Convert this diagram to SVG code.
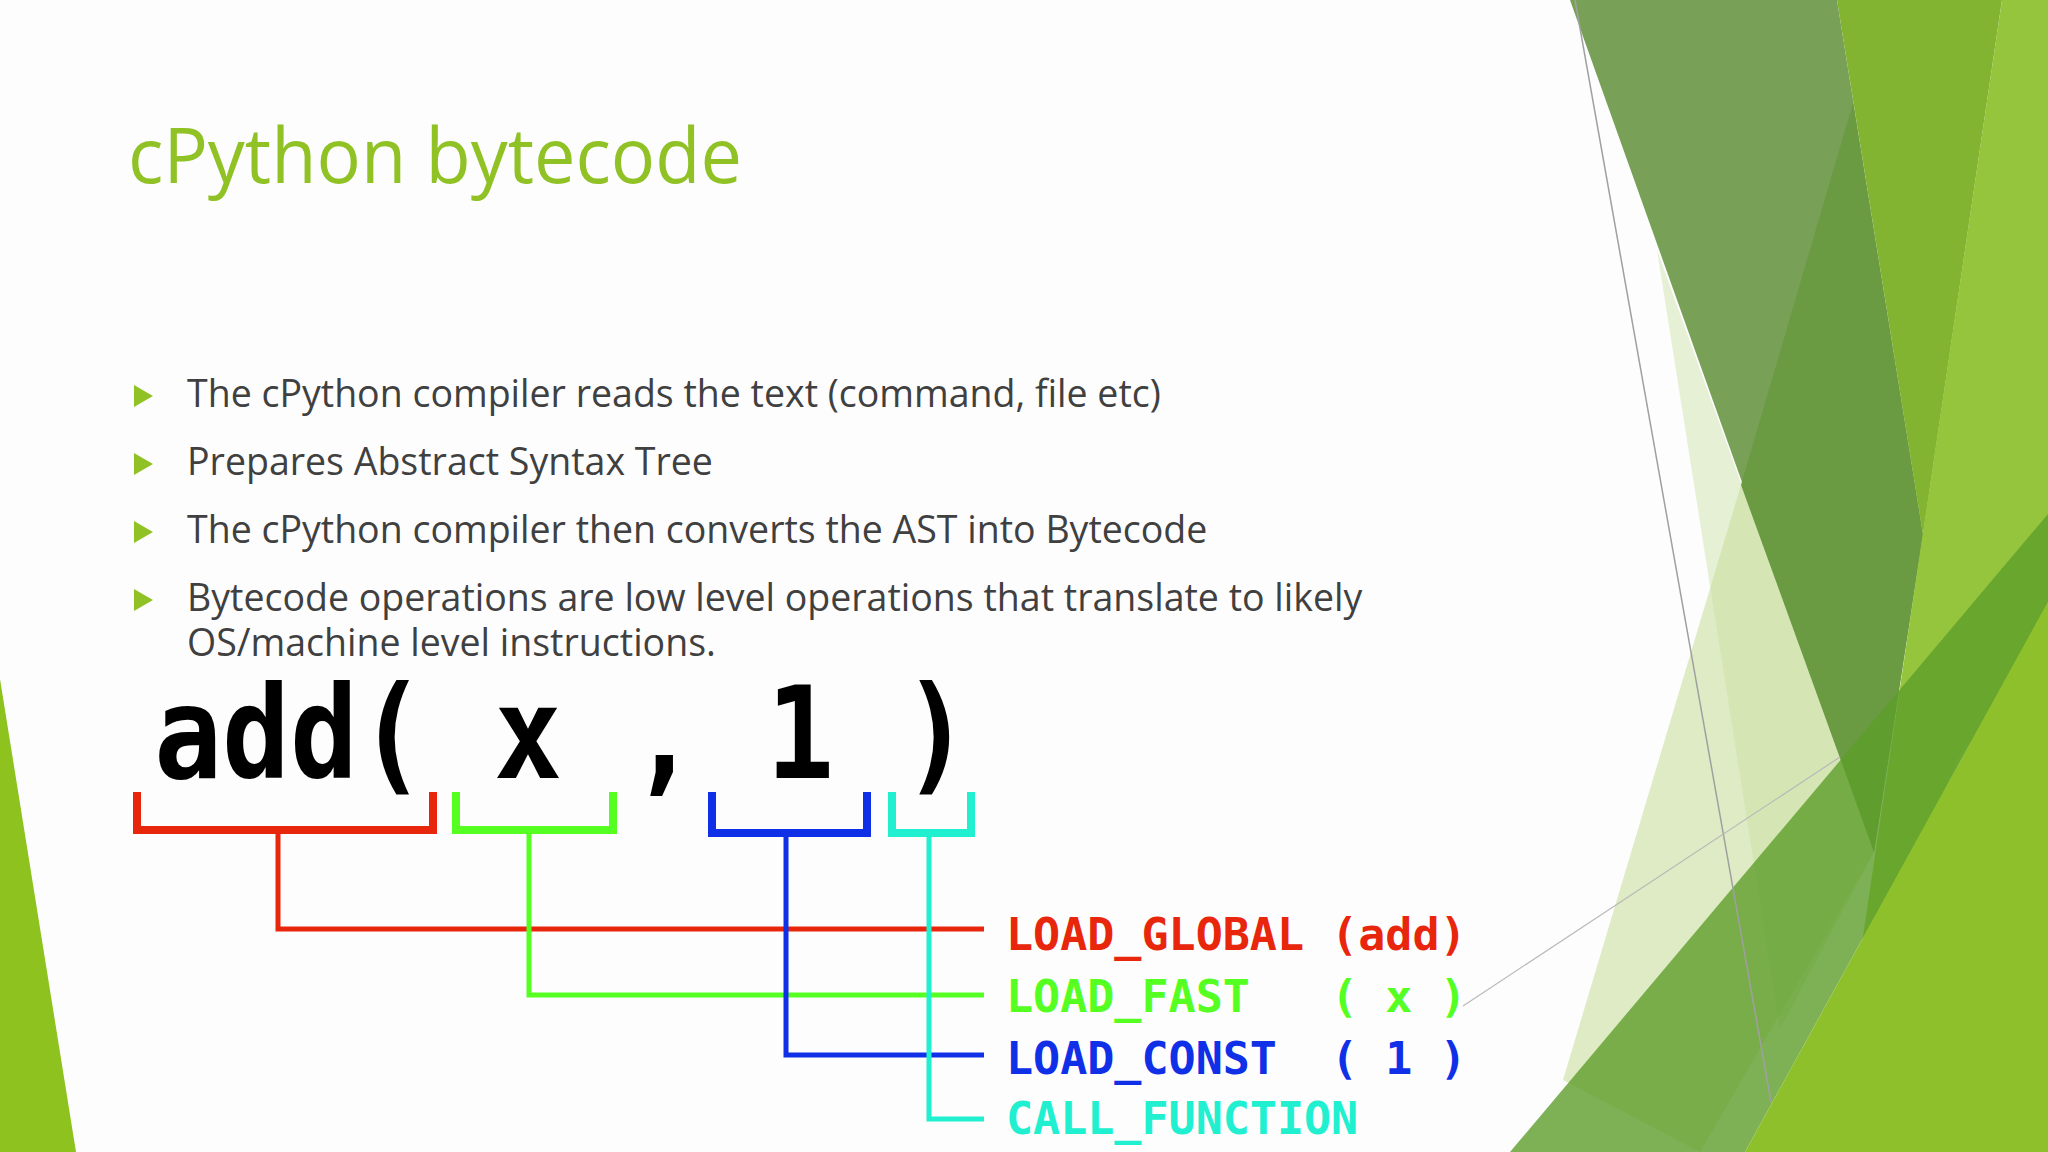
<svg xmlns="http://www.w3.org/2000/svg" width="2048" height="1152" viewBox="0 0 2048 1152">
<style>
.b{font-family:"Open Sans","Liberation Sans",sans-serif;font-size:37.5px;fill:#404040}
.code{font-family:"DejaVu Sans Mono",monospace;font-weight:bold}
.lbl{font-family:"DejaVu Sans Mono",monospace;font-weight:bold;font-size:45px}
.br{fill:none;stroke-width:8;stroke-linecap:butt}
.cn{fill:none;stroke-width:5}
</style>
<defs><polygon id="tri" points="0,-11 19,0 0,11" fill="#90C226"/></defs>
<rect width="2048" height="1152" fill="#FDFDFE"/>
<g id="background">
<polygon points="0,679 76,1152 0,1152" fill="#8DC21F"/>
<polygon points="1657,250 1874,852 1780,1029" fill="#E6F0D4"/>
<polygon points="1741,485 1874,852 1700,1152 1563,1080" fill="#C9DF9E" opacity="0.6"/>
<polygon points="1570,0 1837,0 1923,535 1874,852" fill="#78A056"/>
<polygon points="1853,103 1923,535 1874,852 1741,485" fill="#6A9A42"/>
<polygon points="1837,0 2002,0 1923,535" fill="#82B432"/>
<polygon points="2002,0 2048,0 2048,1152 1831,1152" fill="#95C53D"/>
<polygon points="1958,757 1990,720 1970,880 1900,900" fill="#A8D070" opacity="0.7"/>
<polygon points="1510,1152 2048,514 2048,602 1745,1152" fill="#5E9E2A" opacity="0.8"/>
<polygon points="1745,1152 2048,602 2048,1152" fill="#8DC02A"/>
<line x1="1575" y1="0" x2="1771" y2="1102" stroke="#A0A0A0" stroke-width="1.5"/>
<line x1="1463" y1="1006" x2="1840" y2="757" stroke="#B8B8B8" stroke-width="1.2"/>
</g>
<g id="title"><text x="128" y="183" font-family="Open Sans,Liberation Sans,sans-serif" font-size="76" fill="#90C226" textLength="614" lengthAdjust="spacingAndGlyphs">cPython bytecode</text></g>
<g id="bullets">
<use href="#tri" x="134" y="396"/><text class="b" x="187" y="407">The cPython compiler reads the text (command, file etc)</text>
<use href="#tri" x="134" y="464"/><text class="b" x="187" y="475">Prepares Abstract Syntax Tree</text>
<use href="#tri" x="134" y="532"/><text class="b" x="187" y="543">The cPython compiler then converts the AST into Bytecode</text>
<use href="#tri" x="134" y="600"/><text class="b" x="187" y="611">Bytecode operations are low level operations that translate to likely</text>
<text class="b" x="187" y="656">OS/machine level instructions.</text>
</g>
<g id="code"><text class="code" x="154" y="777" font-size="113" transform="translate(0,-100) scale(1,1.13)" fill="#000">add( x , 1 )</text></g>
<g id="connectors">
<polyline class="br" stroke="#E8260C" points="137,792 137,830 433,830 433,792"/>
<polyline class="br" stroke="#55FF22" points="456,792 456,830 613,830 613,792"/>
<polyline class="br" stroke="#1030E8" points="712,792 712,833 867,833 867,792"/>
<polyline class="br" stroke="#20F0D0" points="892,792 892,833 971,833 971,792"/>
<polyline class="cn" stroke="#E8260C" points="278,830 278,929 984,929"/>
<polyline class="cn" stroke="#55FF22" points="529,830 529,995 984,995"/>
<polyline class="cn" stroke="#1030E8" points="786,833 786,1055 984,1055"/>
<polyline class="cn" stroke="#20F0D0" points="929,833 929,1119 984,1119"/>
</g>
<g id="labels" class="lbl">
<text x="1006" y="950" fill="#E8260C">LOAD_GLOBAL (add)</text>
<text x="1006" y="1012" fill="#55FF22" xml:space="preserve">LOAD_FAST   ( x )</text>
<text x="1006" y="1074" fill="#1030E8" xml:space="preserve">LOAD_CONST  ( 1 )</text>
<text x="1006" y="1134" fill="#20F0D0">CALL_FUNCTION</text>
</g>
</svg>
